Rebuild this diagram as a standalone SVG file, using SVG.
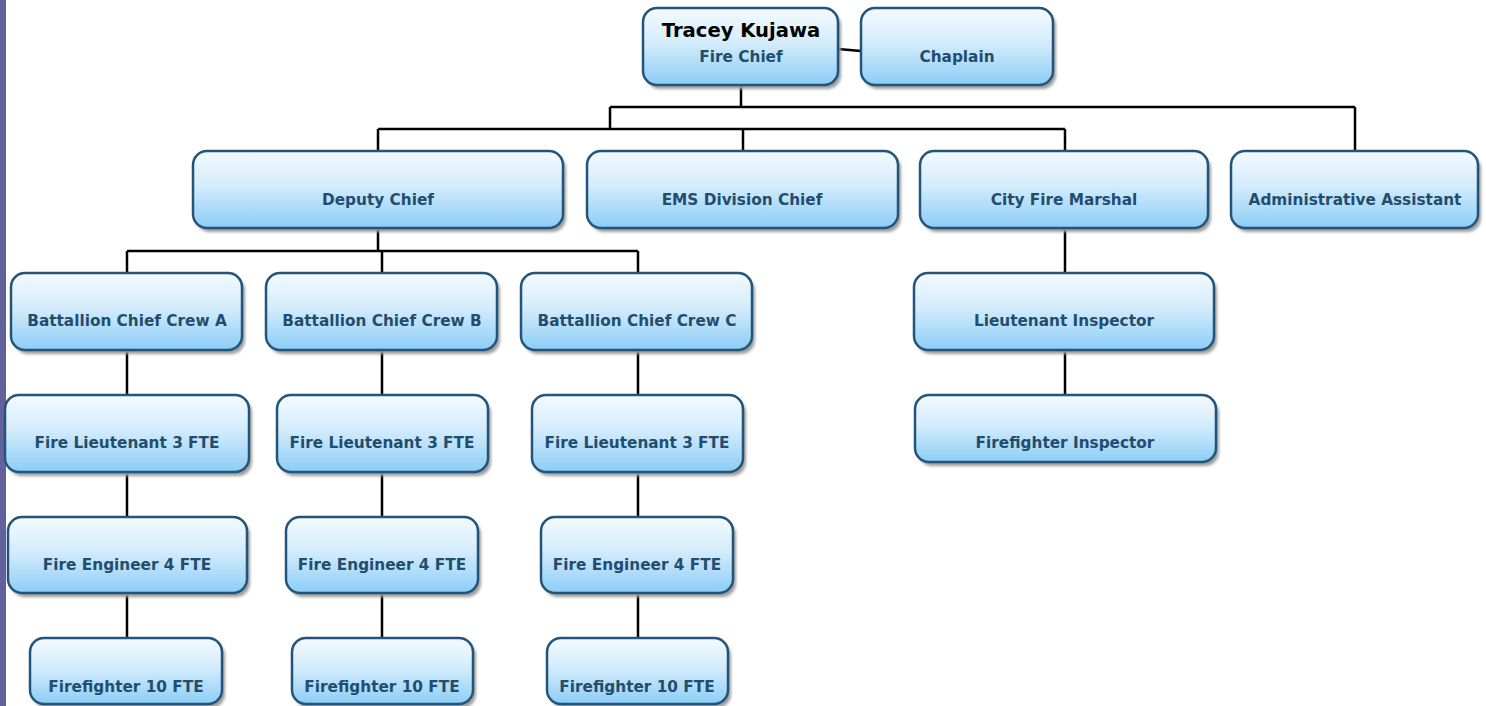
<svg xmlns="http://www.w3.org/2000/svg" width="1486" height="706" viewBox="0 0 1486 706">
  <defs>
    <linearGradient id="boxFill" x1="0" y1="0" x2="0" y2="1">
      <stop offset="0" stop-color="#f4faff"/>
      <stop offset="0.45" stop-color="#d4ecfc"/>
      <stop offset="1" stop-color="#8ccdf6"/>
    </linearGradient>
    <filter id="soft" x="-10%" y="-20%" width="120%" height="140%">
      <feGaussianBlur stdDeviation="1.6"/>
    </filter>
  </defs>
  <style>
    .shadow { fill: #9c9c9c; filter: url(#soft); }
    .box { fill: url(#boxFill); stroke: #24547a; stroke-width: 2.5; }
    .label { font-family: "DejaVu Sans", Verdana, sans-serif; font-weight: bold; font-size: 15.3px; fill: #224d6e; text-anchor: middle; }
    .name { font-family: "DejaVu Sans", Verdana, sans-serif; font-weight: bold; font-size: 19.6px; fill: #000000; text-anchor: middle; }
    .link { stroke: #000000; stroke-width: 2.5; fill: none; }
  </style>

  <rect width="1486" height="706" fill="#ffffff"/>
  <!-- page margin band -->
  <rect x="0" y="0" width="6" height="706" fill="#63619b"/>

  <g id="connectors">
    <line class="link" x1="838" y1="49" x2="861" y2="51"/>
    <path class="link" d="M741 85 V107 M610 107 H1355 M610 107 V129 M378 129 H1065 M378 129 V151 M743 129 V151 M1065 129 V151 M1355 107 V151"/>
    <path class="link" d="M378 228 V251 M127 251 H638 M127 251 V273 M382 251 V273 M638 251 V273"/>
    <path class="link" d="M1065 228 V273 M1065 350 V395"/>
    <path class="link" d="M127 350 V395 M127 472 V517 M127 593 V638"/>
    <path class="link" d="M382 350 V395 M382 472 V517 M382 593 V638"/>
    <path class="link" d="M638 350 V395 M638 472 V517 M638 593 V638"/>
  </g>

  <g id="fire-chief">
    <rect class="shadow" x="646" y="12" width="195" height="77" rx="14"/>
    <rect class="box" x="643" y="8" width="195" height="77" rx="14"/>
    <text class="name" x="741" y="37">Tracey Kujawa</text>
    <text class="label" x="741" y="62">Fire Chief</text>
  </g>
  <g id="chaplain">
    <rect class="shadow" x="864" y="12" width="192" height="77" rx="14"/>
    <rect class="box" x="861" y="8" width="192" height="77" rx="14"/>
    <text class="label" x="957" y="62">Chaplain</text>
  </g>

  <g id="deputy-chief">
    <rect class="shadow" x="196" y="155" width="370" height="77" rx="14"/>
    <rect class="box" x="193" y="151" width="370" height="77" rx="14"/>
    <text class="label" x="378" y="205">Deputy Chief</text>
  </g>
  <g id="ems-division-chief">
    <rect class="shadow" x="590" y="155" width="311" height="77" rx="14"/>
    <rect class="box" x="587" y="151" width="311" height="77" rx="14"/>
    <text class="label" x="742" y="205">EMS Division Chief</text>
  </g>
  <g id="city-fire-marshal">
    <rect class="shadow" x="923" y="155" width="288" height="77" rx="14"/>
    <rect class="box" x="920" y="151" width="288" height="77" rx="14"/>
    <text class="label" x="1064" y="205">City Fire Marshal</text>
  </g>
  <g id="administrative-assistant">
    <rect class="shadow" x="1234" y="155" width="247" height="77" rx="14"/>
    <rect class="box" x="1231" y="151" width="247" height="77" rx="14"/>
    <text class="label" x="1355" y="205">Administrative Assistant</text>
  </g>

  <g id="battalion-a">
    <rect class="shadow" x="14" y="277" width="231" height="77" rx="14"/>
    <rect class="box" x="11" y="273" width="231" height="77" rx="14"/>
    <text class="label" x="127" y="326">Battallion Chief Crew A</text>
  </g>
  <g id="battalion-b">
    <rect class="shadow" x="269" y="277" width="231" height="77" rx="14"/>
    <rect class="box" x="266" y="273" width="231" height="77" rx="14"/>
    <text class="label" x="382" y="326">Battallion Chief Crew B</text>
  </g>
  <g id="battalion-c">
    <rect class="shadow" x="524" y="277" width="231" height="77" rx="14"/>
    <rect class="box" x="521" y="273" width="231" height="77" rx="14"/>
    <text class="label" x="637" y="326">Battallion Chief Crew C</text>
  </g>
  <g id="lieutenant-inspector">
    <rect class="shadow" x="917" y="277" width="300" height="77" rx="14"/>
    <rect class="box" x="914" y="273" width="300" height="77" rx="14"/>
    <text class="label" x="1064" y="326">Lieutenant Inspector</text>
  </g>

  <g id="lieutenant-a">
    <rect class="shadow" x="8" y="399" width="244" height="77" rx="14"/>
    <rect class="box" x="5" y="395" width="244" height="77" rx="14"/>
    <text class="label" x="127" y="448">Fire Lieutenant 3 FTE</text>
  </g>
  <g id="lieutenant-b">
    <rect class="shadow" x="280" y="399" width="211" height="77" rx="14"/>
    <rect class="box" x="277" y="395" width="211" height="77" rx="14"/>
    <text class="label" x="382" y="448">Fire Lieutenant 3 FTE</text>
  </g>
  <g id="lieutenant-c">
    <rect class="shadow" x="535" y="399" width="211" height="77" rx="14"/>
    <rect class="box" x="532" y="395" width="211" height="77" rx="14"/>
    <text class="label" x="637" y="448">Fire Lieutenant 3 FTE</text>
  </g>
  <g id="firefighter-inspector">
    <rect class="shadow" x="918" y="399" width="301" height="67" rx="14"/>
    <rect class="box" x="915" y="395" width="301" height="67" rx="14"/>
    <text class="label" x="1065" y="448">Firefighter Inspector</text>
  </g>

  <g id="engineer-a">
    <rect class="shadow" x="11" y="521" width="239" height="76" rx="14"/>
    <rect class="box" x="8" y="517" width="239" height="76" rx="14"/>
    <text class="label" x="127" y="570">Fire Engineer 4 FTE</text>
  </g>
  <g id="engineer-b">
    <rect class="shadow" x="289" y="521" width="192" height="76" rx="14"/>
    <rect class="box" x="286" y="517" width="192" height="76" rx="14"/>
    <text class="label" x="382" y="570">Fire Engineer 4 FTE</text>
  </g>
  <g id="engineer-c">
    <rect class="shadow" x="544" y="521" width="192" height="76" rx="14"/>
    <rect class="box" x="541" y="517" width="192" height="76" rx="14"/>
    <text class="label" x="637" y="570">Fire Engineer 4 FTE</text>
  </g>

  <g id="firefighter-a">
    <rect class="shadow" x="33" y="642" width="192" height="66" rx="14"/>
    <rect class="box" x="30" y="638" width="192" height="66" rx="14"/>
    <text class="label" x="126" y="692">Firefighter 10 FTE</text>
  </g>
  <g id="firefighter-b">
    <rect class="shadow" x="295" y="642" width="181" height="66" rx="14"/>
    <rect class="box" x="292" y="638" width="181" height="66" rx="14"/>
    <text class="label" x="382" y="692">Firefighter 10 FTE</text>
  </g>
  <g id="firefighter-c">
    <rect class="shadow" x="550" y="642" width="181" height="66" rx="14"/>
    <rect class="box" x="547" y="638" width="181" height="66" rx="14"/>
    <text class="label" x="637" y="692">Firefighter 10 FTE</text>
  </g>
</svg>
